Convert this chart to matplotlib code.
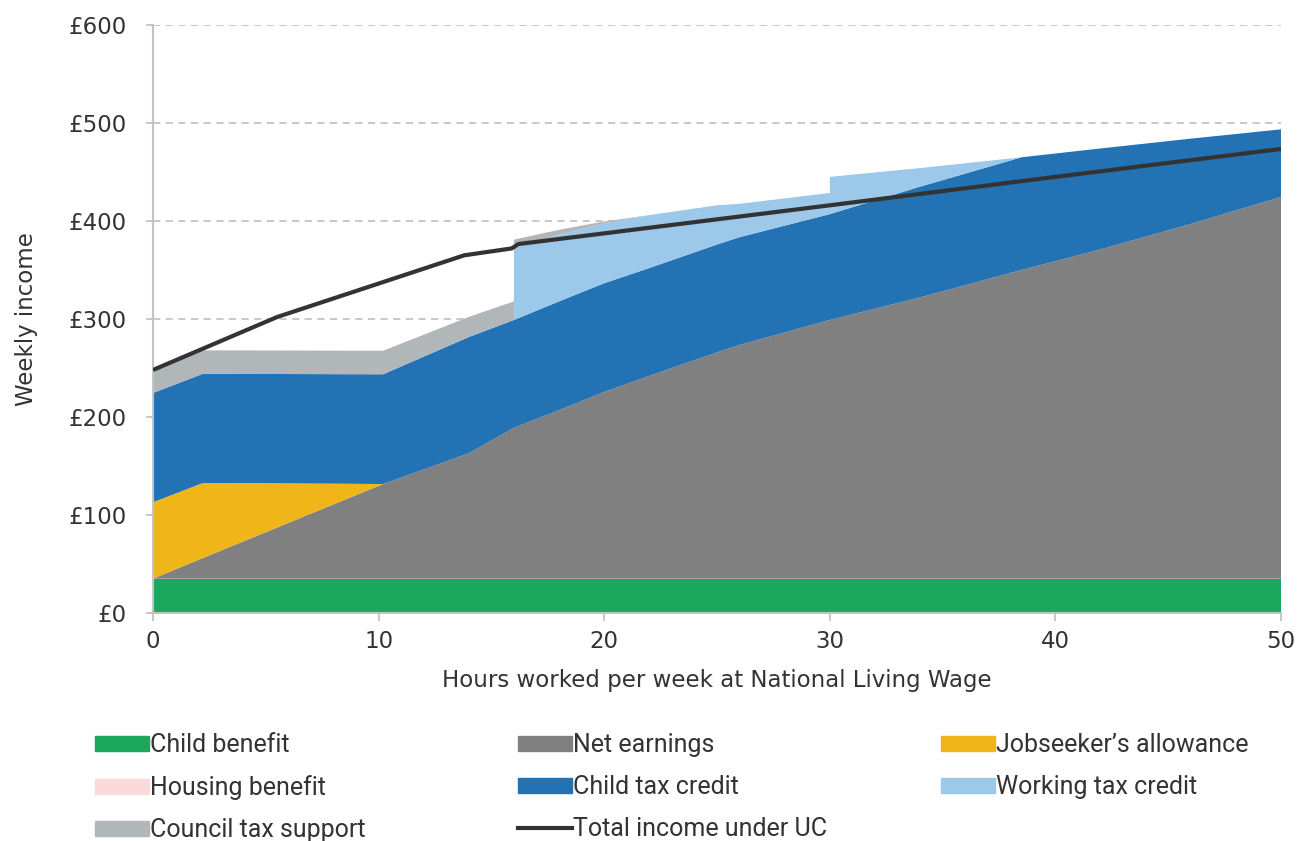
import matplotlib
matplotlib.use('agg')
import matplotlib.pyplot as plt
from matplotlib.patches import Patch
from matplotlib.lines import Line2D

# hours worked per week (breakpoints, 16 and 30 repeated for the WTC jumps)
hours = [0, 2.2, 5, 10.2, 14, 16, 16, 18, 20, 22, 25, 26, 30, 30, 34, 38.5, 42, 46, 50]

child_benefit = [35] * len(hours)
net_earnings = [0, 21, 47.5, 96.6, 128, 154, 154, 172, 190.5, 207, 231, 238.5, 264, 264, 287, 315, 336, 362, 389.5]
jobseekers = [78, 76.6, 50, 0, 0, 0, 0, 0, 0, 0, 0, 0, 0, 0, 0, 0, 0, 0, 0]
housing_benefit = [0] * len(hours)
child_tax_credit = [111.5, 111.4, 111.4, 112, 118.6, 110, 110, 111, 111, 110, 110, 110, 108, 108, 113, 115, 103, 87, 69]
working_tax_credit = [0, 0, 0, 0, 0, 0, 73, 68, 61, 54, 40, 34, 21.6, 38, 19, 0, 0, 0, 0]
council_tax_support = [24, 24, 24, 24, 20.5, 19, 9, 5, 2, 0, 0, 0, 0, 0, 0, 0, 0, 0, 0]

hours_uc = [0, 5.5, 13.8, 15.9, 16.2, 30, 40, 50]
total_uc = [248, 302, 365, 372, 376.5, 416, 445, 473.5]

labels = ['Child benefit', 'Net earnings', "Jobseeker\u2019s allowance", 'Housing benefit',
          'Child tax credit', 'Working tax credit', 'Council tax support']
colors = ['#1ca75e', '#808080', '#f0b519', '#fadadd', '#2272b4', '#9cc8ea', '#b1b7b8']

text_col = '#333333'
fig = plt.figure(figsize=(13.11, 8.41), dpi=100)
ax = fig.add_axes([0.1167, 0.2711, 0.8604, 0.6992])

ax.stackplot(hours, child_benefit, net_earnings, jobseekers, housing_benefit,
             child_tax_credit, working_tax_credit, council_tax_support,
             colors=colors, linewidth=0, zorder=2)
ax.plot(hours_uc, total_uc, color='#333333', lw=3, solid_capstyle='butt', zorder=3)

ax.set_xlim(0, 50)
ax.set_ylim(0, 600)
ax.set_xticks(range(0, 51, 10))
ax.set_yticks(range(0, 601, 100))
ax.set_yticklabels(['\u00a3%d' % v for v in range(0, 601, 100)])
ax.yaxis.grid(True, color='#c4c4c4', ls=(0, (4, 3)), lw=1.3, zorder=1)
ax.set_axisbelow(True)
for s in ['top', 'right']:
    ax.spines[s].set_visible(False)
for s in ['left', 'bottom']:
    ax.spines[s].set_color('#c4c4c4')
    ax.spines[s].set_linewidth(1.5)
ax.tick_params(axis='y', length=5, width=1.3, color='#c4c4c4', pad=14, labelsize=16.5, labelcolor=text_col)
ax.tick_params(axis='x', length=6, width=1.3, color='#c4c4c4', pad=6, labelsize=16.5, labelcolor=text_col)

ax.set_xlabel('Hours worked per week at National Living Wage', fontsize=16.5, color=text_col, labelpad=12)
ax.set_ylabel('Weekly income', fontsize=16.5, color=text_col, labelpad=22)

handles = [Patch(color=c) for c in colors]
handles.append(Line2D([], [], color='#333333', lw=3))
all_labels = labels + ['Total income under UC']
columns = [[0, 3, 6], [1, 4, 7], [2, 5]]
xs = [0.0725, 0.395, 0.718]
for col, x0 in zip(columns, xs):
    fig.legend([handles[i] for i in col], [all_labels[i] for i in col],
               loc='upper left', bbox_to_anchor=(x0, 0.128), frameon=False,
               prop={'family': ['Roboto', 'DejaVu Sans'], 'size': 18},
               labelcolor=text_col, handlelength=2.15, handleheight=0.6,
               handletextpad=0.05, labelspacing=0.72, borderaxespad=0, borderpad=0)

fig.savefig('out.png', dpi=100)
